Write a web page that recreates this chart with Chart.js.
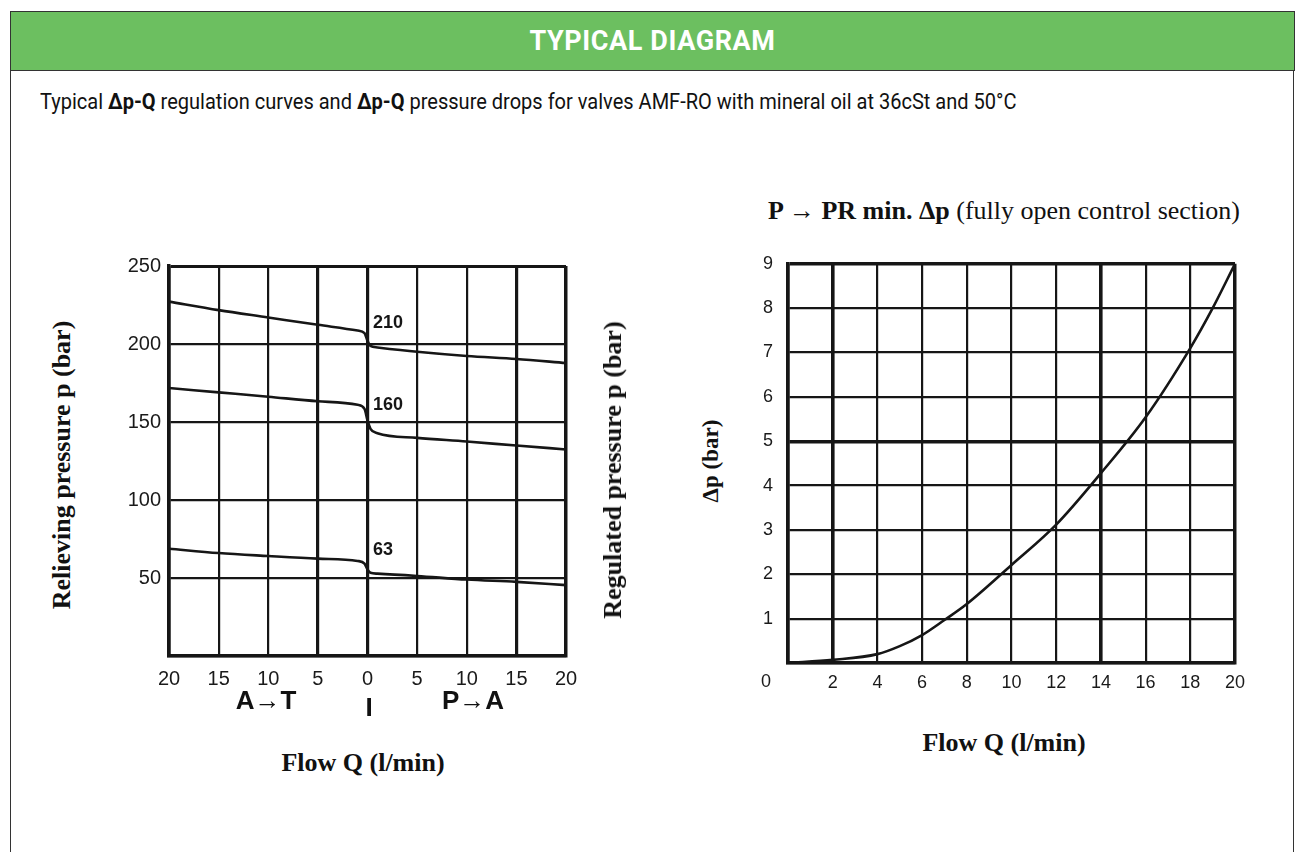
<!DOCTYPE html>
<html>
<head>
<meta charset="utf-8">
<script src="https://cdn.jsdelivr.net/npm/chart.js"></script>
<style>
  body { margin: 0; background: #fff; width: 1295px; height: 852px; overflow: hidden; position: relative; font-family: "Liberation Sans", Arial, sans-serif; }
  .frame { position: absolute; left: 10px; top: 11px; width: 1282px; height: 900px; border: 1.5px solid #333; }
  .header { position: absolute; left: 10px; top: 11px; width: 1283px; height: 58px; background: #6cbf60; border: 1.5px solid #333; }
  .header span { position: absolute; left: 0; right: 0; top: 13px; text-align: center; color: #fff; font: bold 27px Roboto, sans-serif; letter-spacing: 0.6px; }
  .subtitle { position: absolute; left: 40px; top: 89px; font: 22px Roboto, sans-serif; color: #111; transform: scaleX(0.91); transform-origin: 0 0; white-space: nowrap; }
  .subtitle b { font-weight: bold; }
  .txt { position: absolute; white-space: nowrap; color: #111; }
  .serif { font-family: "Liberation Serif", "Times New Roman", serif; font-weight: bold; }
  .rot { transform: translate(-50%, -50%) rotate(-90deg); }
  .ctr { transform: translate(-50%, -50%); }
  canvas { position: absolute; }
</style>
</head>
<body>
<div class="frame"></div>
<div class="header"><span>TYPICAL DIAGRAM</span></div>
<div class="subtitle">Typical <b>&Delta;p-Q</b> regulation curves and <b>&Delta;p-Q</b> pressure drops for valves AMF-RO with mineral oil at 36cSt and 50°C</div>

<canvas id="regChart" width="500" height="460" style="left:100px; top:246px;"></canvas>
<canvas id="dropChart" width="520" height="470" style="left:740px; top:238px;"></canvas>

<div class="txt serif rot" style="left:62px; top:465px; font-size:26px;">Relieving pressure p (bar)</div>
<div class="txt serif rot" style="left:613px; top:470px; font-size:26px;">Regulated pressure p (bar)</div>
<div class="txt serif ctr" style="left:363px; top:763px; font-size:26px;">Flow Q (l/min)</div>
<div class="txt ctr" style="left:266px; top:700px; font:bold 26px 'Liberation Sans', Arial, sans-serif;">A&rarr;T</div>
<div class="txt ctr" style="left:369px; top:707px; font:bold 26px 'Liberation Sans', Arial, sans-serif;">I</div>
<div class="txt ctr" style="left:473px; top:700px; font:bold 26px 'Liberation Sans', Arial, sans-serif;">P&rarr;A</div>

<div class="txt ctr" style="left:1004px; top:211px; font-family:'Liberation Serif', serif; font-size:26px;"><b>P &rarr; PR min. &Delta;p</b> (fully open control section)</div>
<div class="txt serif rot" style="left:711px; top:461px; font-size:23px;">&Delta;p (bar)</div>
<div class="txt serif ctr" style="left:1004px; top:743px; font-size:26px;">Flow Q (l/min)</div>

<script>
// Regulation curves (left): flow, A->T negative, P->A positive
const regFlow = [-20, -15, -10, -5, -1, -0.3, 0, 0.3, 1, 5, 10, 15, 20];
const curve210 = [227.2, 221.7, 217, 212.3, 208.6, 207, 202, 198.8, 197.8, 195, 192.3, 190.4, 187.8];
const curve160 = [171.8, 169, 166.2, 163.3, 161, 158.4, 151, 145.6, 142.8, 139.8, 137.5, 134.9, 132.4];
const curve63 = [68.8, 66, 64.1, 62.4, 60.9, 59.2, 55.4, 53.3, 52.8, 51.3, 49, 47.5, 45.4];
const curveLabels = ['210', '160', '63'];
const regYTicks = [0, 50, 100, 150, 200, 250];
const regXTicks = [-20, -15, -10, -5, 0, 5, 10, 15, 20];

// Pressure drop P -> PR (right)
const dropFlow = [0, 2, 4, 5, 6, 7, 8, 10, 12, 14, 16, 18, 19, 20];
const dropDp = [0, 0.07, 0.2, 0.38, 0.63, 0.97, 1.33, 2.21, 3.12, 4.28, 5.54, 7.1, 8.0, 9];
const dropXTicks = [0, 2, 4, 6, 8, 10, 12, 14, 16, 18, 20];
const dropYTicks = [0, 1, 2, 3, 4, 5, 6, 7, 8, 9];

const ink = '#161616';

function toPoints(xs, ys) {
    return xs.map((x, i) => ({ x: x, y: ys[i] }));
}

function curveDataset(ys) {
    return {
        data: toPoints(regFlow, ys),
        borderColor: ink,
        borderWidth: 2.6,
        pointRadius: 0,
        cubicInterpolationMode: 'monotone',
        fill: false
    };
}

// writes the set pressure next to each curve, just right of the zero flow line
const curveLabelPlugin = {
    id: 'curveLabels',
    afterDatasetsDraw(chart) {
        const { ctx, scales } = chart;
        const anchors = [213.6, 161, 67.8]; // label heights in bar
        ctx.save();
        ctx.font = 'bold 18px "Liberation Sans", Arial, sans-serif';
        ctx.fillStyle = ink;
        ctx.textBaseline = 'middle';
        curveLabels.forEach((txt, i) => {
            ctx.fillText(txt, scales.x.getPixelForValue(0.55), scales.y.getPixelForValue(anchors[i]));
        });
        ctx.restore();
    }
};

new Chart(document.getElementById('regChart'), {
    type: 'line',
    data: { datasets: [curveDataset(curve210), curveDataset(curve160), curveDataset(curve63)] },
    options: {
        responsive: false,
        animation: false,
        layout: { padding: { top: 10, right: 34, left: 0, bottom: 0 } },
        plugins: { legend: { display: false }, tooltip: { enabled: false } },
        scales: {
            x: {
                type: 'linear',
                min: -20, max: 20,
                afterBuildTicks: scale => { scale.ticks = regXTicks.map(v => ({ value: v })); },
                afterFit: scale => { scale.height = 50; },
                border: { display: true, width: 3.5, color: ink },
                grid: {
                    drawTicks: false,
                    color: ink,
                    lineWidth: c => ([-20, 20].includes(c.tick.value) ? 3.5 : ([-5, 0, 15].includes(c.tick.value) ? 3.2 : 2.2))
                },
                ticks: {
                    padding: 11,
                    color: '#1a1a1a',
                    font: { size: 20, family: '"Liberation Sans", Arial, sans-serif' },
                    callback: v => Math.abs(v)
                }
            },
            y: {
                min: 0, max: 250,
                afterBuildTicks: scale => { scale.ticks = regYTicks.map(v => ({ value: v })); },
                afterFit: scale => { scale.width = 69; },
                border: { display: true, width: 3.5, color: ink },
                grid: {
                    drawTicks: false,
                    color: ink,
                    lineWidth: c => (c.tick.value === 250 ? 3 : 2.2)
                },
                ticks: {
                    padding: 8,
                    color: '#1a1a1a',
                    font: { size: 20, family: '"Liberation Sans", Arial, sans-serif' },
                    callback: v => (v === 0 ? '' : v)
                }
            }
        }
    },
    plugins: [curveLabelPlugin]
});

// the zero on the flow axis sits a little left of the origin
const zeroLabelPlugin = {
    id: 'zeroLabel',
    afterDraw(chart) {
        const { ctx, scales } = chart;
        ctx.save();
        ctx.font = '18px "Liberation Sans", Arial, sans-serif';
        ctx.fillStyle = '#1a1a1a';
        ctx.textAlign = 'center';
        ctx.textBaseline = 'top';
        ctx.fillText('0', scales.x.getPixelForValue(0) - 22, scales.x.top + 10);
        ctx.restore();
    }
};

new Chart(document.getElementById('dropChart'), {
    type: 'line',
    data: {
        datasets: [{
            data: toPoints(dropFlow, dropDp),
            borderColor: ink,
            borderWidth: 2.6,
            pointRadius: 0,
            cubicInterpolationMode: 'monotone',
            fill: false
        }]
    },
    options: {
        responsive: false,
        animation: false,
        layout: { padding: { top: 1, right: 25, left: 0, bottom: 0 } },
        plugins: { legend: { display: false }, tooltip: { enabled: false } },
        scales: {
            x: {
                type: 'linear',
                min: 0, max: 20,
                afterBuildTicks: scale => { scale.ticks = dropXTicks.map(v => ({ value: v })); },
                afterFit: scale => { scale.height = 45; },
                border: { display: true, width: 3.5, color: ink },
                grid: {
                    drawTicks: false,
                    color: ink,
                    lineWidth: c => ([0, 20].includes(c.tick.value) ? 3.5 : ([2, 14].includes(c.tick.value) ? 3.6 : 2.2))
                },
                ticks: {
                    padding: 9,
                    color: '#1a1a1a',
                    font: { size: 18, family: '"Liberation Sans", Arial, sans-serif' },
                    callback: v => (v === 0 ? '' : v)
                }
            },
            y: {
                min: 0, max: 9,
                afterBuildTicks: scale => { scale.ticks = dropYTicks.map(v => ({ value: v })); },
                afterFit: scale => { scale.width = 48; },
                border: { display: true, width: 3.5, color: ink },
                grid: {
                    drawTicks: false,
                    color: ink,
                    lineWidth: c => ([5, 9].includes(c.tick.value) ? 3.4 : 2.2)
                },
                ticks: {
                    padding: 15,
                    color: '#1a1a1a',
                    font: { size: 18, family: '"Liberation Sans", Arial, sans-serif' },
                    callback: v => (v === 0 ? '' : v)
                }
            }
        }
    },
    plugins: [zeroLabelPlugin]
});
</script>
</body>
</html>
